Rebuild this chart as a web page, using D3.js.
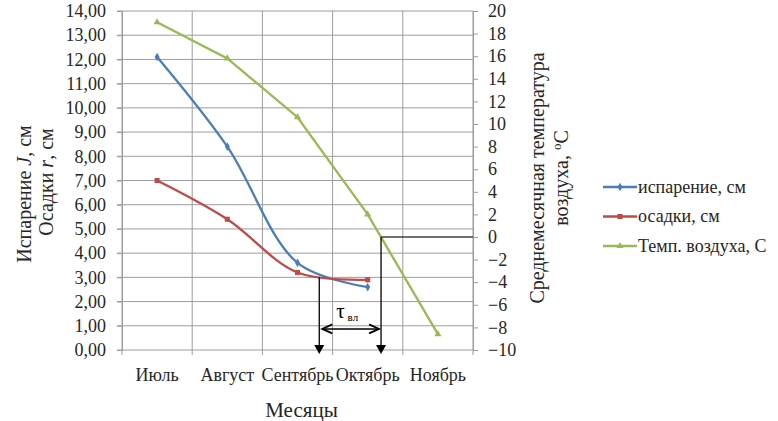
<!DOCTYPE html>
<html>
<head>
<meta charset="utf-8">
<script src="https://cdn.jsdelivr.net/npm/d3@7"></script>
<style>
  body { margin: 0; background: #fff; }
</style>
</head>
<body>
<div id="chart"></div>
<script>
// months on x axis
var months = ['Июль', 'Август', 'Сентябрь', 'Октябрь', 'Ноябрь'];
// evaporation, cm (left axis)
var evaporation = [12.1, 8.4, 3.6, 2.6];
// precipitation, cm (left axis)
var precipitation = [7.0, 5.4, 3.2, 2.9];
// mean monthly air temperature, C (right axis)
var temperature = [19.0, 15.8, 10.6, 2.0, -8.6];

var leftTicks = d3.range(0, 15, 1);
var rightTicks = d3.range(-10, 21, 2);
var legendNames = ['испарение, см', 'осадки, см', 'Темп. воздуха, С'];

// annotation: month index where curves cross / temperature goes through 0
var tauStart = [2.31, 3.0];   // [month index, left value]
var tauEnd = [3.19, 0];       // [month index, temperature]
var tauArrowLevel = 0.87;     // left value of the double arrow

(function (d3) {
    'use strict';

    var W = 778, H = 421;
    var L = 122, R = 473, T = 11, B = 350;
    var serif = 'Liberation Serif';
    var ink = '#262626';

    var svg = d3.select('#chart').append('svg')
        .attr('width', W).attr('height', H)
        .attr('font-family', serif);

    var x = d3.scaleBand().domain(months).range([L, R]).padding(0);
    var xi = d3.scaleLinear().domain([-0.5, months.length - 0.5]).range([L, R]);
    var yL = d3.scaleLinear().domain([0, 14]).range([B, T]);
    var yR = d3.scaleLinear().domain([-10, 20]).range([B, T]);

    var comma = function (v) { return d3.format('.2f')(v).replace('.', ','); };
    var gridCol = '#9c9c9c';

    // horizontal grid
    svg.append('g').selectAll('line').data(leftTicks).enter().append('line')
        .attr('x1', L - 5).attr('x2', R)
        .attr('y1', function (d) { return yL(d); })
        .attr('y2', function (d) { return yL(d); })
        .attr('stroke', gridCol).attr('stroke-width', 1);

    // vertical grid + bottom ticks at category boundaries
    var bounds = d3.range(0, months.length + 1);
    svg.append('g').selectAll('line').data(bounds).enter().append('line')
        .attr('x1', function (d) { return xi(d - 0.5); })
        .attr('x2', function (d) { return xi(d - 0.5); })
        .attr('y1', T).attr('y2', B + 5)
        .attr('stroke', gridCol).attr('stroke-width', 1);

    function styleAxis(g) {
        g.attr('font-family', serif).attr('font-size', 18);
        g.select('.domain').attr('stroke', gridCol);
        g.selectAll('.tick line').attr('stroke', gridCol);
        g.selectAll('text').attr('font-family', serif).attr('font-size', 18).attr('fill', ink);
    }

    // left axis
    svg.append('g').attr('transform', 'translate(' + L + ',0)')
        .call(d3.axisLeft(yL).tickValues(leftTicks).tickFormat(comma).tickSize(5).tickPadding(11))
        .call(styleAxis);

    // right axis
    svg.append('g').attr('transform', 'translate(' + R + ',0)')
        .call(d3.axisRight(yR).tickValues(rightTicks).tickSize(5).tickPadding(10))
        .call(styleAxis);

    // x axis labels
    var gx = svg.append('g').attr('transform', 'translate(0,' + B + ')')
        .call(d3.axisBottom(x).tickSize(0).tickPadding(18))
        .call(styleAxis);
    gx.select('.domain').remove();

    // axis titles
    var lt = svg.append('text').attr('transform', 'translate(24,194) rotate(-90)')
        .attr('text-anchor', 'middle').attr('dy', '0.35em').attr('font-size', 20).attr('fill', ink);
    lt.append('tspan').text('Испарение ');
    lt.append('tspan').attr('font-style', 'italic').text('J');
    lt.append('tspan').text(', см');

    var lt2 = svg.append('text').attr('transform', 'translate(46,182) rotate(-90)')
        .attr('text-anchor', 'middle').attr('dy', '0.35em').attr('font-size', 20).attr('fill', ink);
    lt2.append('tspan').text('Осадки  ');
    lt2.append('tspan').attr('font-style', 'italic').text('r');
    lt2.append('tspan').text(',  см');

    svg.append('text').attr('transform', 'translate(537,178) rotate(-90)')
        .attr('text-anchor', 'middle').attr('dy', '0.35em').attr('font-size', 20).attr('fill', ink)
        .text('Среднемесячная температура');
    var rt2 = svg.append('text').attr('transform', 'translate(561,178) rotate(-90)')
        .attr('text-anchor', 'middle').attr('dy', '0.35em').attr('font-size', 20).attr('fill', ink);
    rt2.append('tspan').text('воздуха, ');
    rt2.append('tspan').attr('font-size', 13).attr('dy', -7).text('o');
    rt2.append('tspan').attr('dy', 7).text('C');

    svg.append('text').attr('x', xi(2) + 4).attr('y', 417).attr('fill', ink)
        .attr('text-anchor', 'middle').attr('font-size', 21).text('Месяцы');

    // series
    var series = [
        {name: legendNames[0], vals: evaporation, y: yL, color: '#4a7ebb', marker: d3.symbolDiamond, size: 22, curve: d3.curveCatmullRom.alpha(0.5)},
        {name: legendNames[1], vals: precipitation, y: yL, color: '#be4b48', marker: d3.symbolSquare, size: 26, curve: d3.curveCatmullRom.alpha(0.5)},
        {name: legendNames[2], vals: temperature, y: yR, color: '#98b954', marker: d3.symbolTriangle, size: 22, curve: d3.curveLinear}
    ];

    series.forEach(function (s) {
        var line = d3.line()
            .x(function (d, i) { return xi(i); })
            .y(function (d) { return s.y(d); })
            .curve(s.curve);
        svg.append('path').datum(s.vals)
            .attr('d', line).attr('fill', 'none')
            .attr('stroke', s.color).attr('stroke-width', 2.3);
        svg.append('g').selectAll('path').data(s.vals).enter().append('path')
            .attr('d', d3.symbol().type(s.marker).size(s.size))
            .attr('transform', function (d, i) { return 'translate(' + xi(i) + ',' + s.y(d) + ')'; })
            .attr('fill', s.color);
    });

    // annotation
    var ax1 = xi(tauStart[0]), ay1 = yL(tauStart[1]);
    var ax2 = xi(tauEnd[0]), ay2 = yR(tauEnd[1]);
    var tip = B + 4;
    var ann = svg.append('g').attr('stroke', '#000').attr('stroke-width', 1.3);
    ann.append('line').attr('x1', ax1).attr('x2', ax1).attr('y1', ay1).attr('y2', tip - 8);
    ann.append('line').attr('x1', ax2).attr('x2', ax2).attr('y1', ay2).attr('y2', tip - 8);
    ann.append('line').attr('x1', ax2).attr('x2', R).attr('y1', ay2).attr('y2', ay2).attr('stroke', '#404040');
    [ax1, ax2].forEach(function (ax) {
        svg.append('path')
            .attr('d', 'M' + (ax - 5) + ',' + (tip - 9) + 'L' + (ax + 5) + ',' + (tip - 9) + 'L' + ax + ',' + tip + 'Z')
            .attr('fill', '#000');
    });
    var ya = yL(tauArrowLevel);
    var hx1 = ax1 + 3, hx2 = ax2 - 2;
    ann.append('line').attr('x1', hx1).attr('x2', hx2).attr('y1', ya).attr('y2', ya).attr('stroke-width', 1.6);
    ann.append('path').attr('fill', 'none').attr('stroke-width', 1.8)
        .attr('d', 'M' + (hx1 + 10) + ',' + (ya - 4.5) + 'L' + hx1 + ',' + ya + 'L' + (hx1 + 10) + ',' + (ya + 4.5));
    ann.append('path').attr('fill', 'none').attr('stroke-width', 1.8)
        .attr('d', 'M' + (hx2 - 10) + ',' + (ya - 4.5) + 'L' + hx2 + ',' + ya + 'L' + (hx2 - 10) + ',' + (ya + 4.5));
    var tau = svg.append('text').attr('x', (ax1 + ax2) / 2 - 3).attr('y', ya - 11)
        .attr('text-anchor', 'middle').attr('font-size', 21).attr('fill', '#000');
    tau.append('tspan').text('τ');
    tau.append('tspan').attr('font-size', 11).attr('dy', 3).attr('dx', 3).text('вл');

    // legend
    var lg = svg.append('g').attr('transform', 'translate(603,187)');
    series.forEach(function (s, i) {
        var g = lg.append('g').attr('transform', 'translate(0,' + (i * 29.5) + ')');
        g.append('line').attr('x1', 0).attr('x2', 34).attr('stroke', s.color).attr('stroke-width', 2.3);
        g.append('path').attr('d', d3.symbol().type(s.marker).size(s.size))
            .attr('transform', 'translate(17,0)').attr('fill', s.color);
        g.append('text').attr('x', 35).attr('dy', '0.33em').attr('font-size', 18).attr('fill', ink).text(s.name);
    });
}(window.d3));
</script>
</body>
</html>
